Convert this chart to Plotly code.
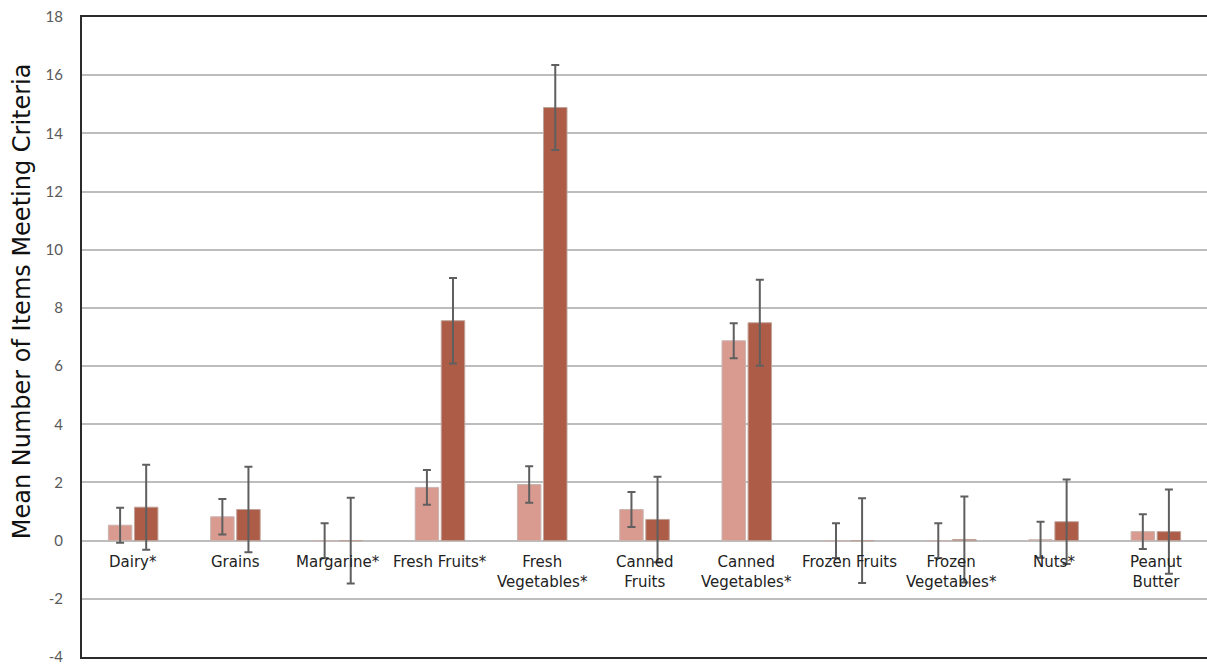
import plotly.graph_objects as go

categories = ["Dairy*", "Grains", "Margarine*", "Fresh Fruits*", "Fresh<br>Vegetables*",
              "Canned<br>Fruits", "Canned<br>Vegetables*", "Frozen Fruits",
              "Frozen<br>Vegetables*", "Nuts*", "Peanut<br>Butter"]

series_a = [0.53, 0.82, 0.0, 1.83, 1.93, 1.07, 6.87, 0.0, 0.0, 0.03, 0.31]
series_a_err = [0.6, 0.61, 0.6, 0.6, 0.63, 0.6, 0.6, 0.6, 0.6, 0.62, 0.6]

series_b = [1.15, 1.07, 0.0, 7.56, 14.89, 0.73, 7.49, 0.0, 0.04, 0.65, 0.31]
series_b_err = [1.46, 1.47, 1.47, 1.47, 1.46, 1.47, 1.48, 1.46, 1.48, 1.45, 1.45]

y_ticks = list(range(-4, 19, 2))
y_tick_text = [str(v) for v in y_ticks]
y_title = "Mean Number of Items Meeting Criteria"

font_family = "'DejaVu Sans', Lato, sans-serif"
light_col = "#D99B90"
dark_col = "#AD5D47"
err_col = "#5F5F5F"

fig = go.Figure()
fig.add_trace(go.Bar(
    x=categories, y=series_a, marker=dict(color=light_col, line=dict(color="#C9B5B1", width=1)),
    error_y=dict(type="data", array=series_a_err, visible=True, color=err_col, thickness=2, width=4),
    showlegend=False))
fig.add_trace(go.Bar(
    x=categories, y=series_b, marker=dict(color=dark_col, line=dict(color="#BFA39B", width=1)),
    error_y=dict(type="data", array=series_b_err, visible=True, color=err_col, thickness=2, width=4),
    showlegend=False))

# category names sit just under the zero line, inside the plot
for cat in categories:
    fig.add_annotation(x=cat, y=0, text=cat, showarrow=False, yanchor="top", yshift=-10,
                       font=dict(family=font_family, size=15, color="#222222"))

# vertical axis title, placed slightly above the middle of the plot
fig.add_annotation(xref="paper", yref="paper", x=-0.0533, y=0.556, text=y_title,
                   textangle=-90, showarrow=False, xanchor="center", yanchor="middle",
                   font=dict(family=font_family, size=24, color="#111111"))

fig.update_layout(
    width=1207, height=664,
    margin=dict(l=82, r=0, t=17, b=7),
    plot_bgcolor="white", paper_bgcolor="white",
    barmode="group", bargap=0.49, bargroupgap=0.1,
    font=dict(family=font_family),
    xaxis=dict(showticklabels=False, showgrid=False, showline=True, mirror=True,
               linecolor="#2b2b2b", linewidth=2, zeroline=False),
    yaxis=dict(range=[-4, 18], tickvals=y_ticks, ticktext=y_tick_text, showgrid=True,
               gridcolor="#BDBDBD", gridwidth=2, ticklabeloverflow="allow",
               zeroline=False, showline=True, linecolor="#2b2b2b", linewidth=2,
               tickfont=dict(family="Lato, sans-serif", size=15, color="#595959"),
               ticklabelstandoff=14),
)

fig.write_html("out.html")
